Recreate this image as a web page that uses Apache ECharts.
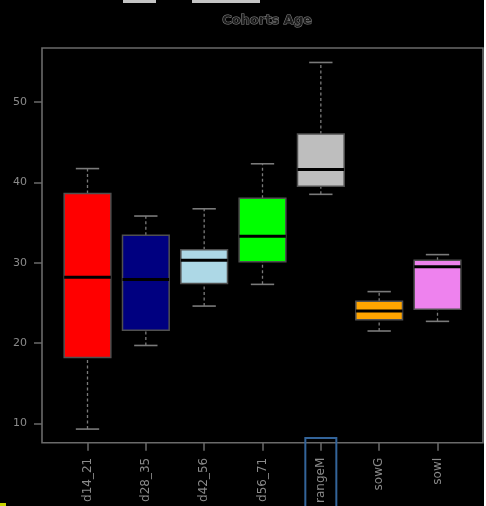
<!DOCTYPE html>
<html>
<head>
<meta charset="utf-8">
<style>
  html, body { margin: 0; padding: 0; background: #000; }
  #chart { width: 486px; height: 506px; }
</style>
<script src="https://cdn.jsdelivr.net/npm/echarts@6/dist/echarts.min.js"></script>
</head>
<body>
<div id="chart"></div>
<script>
// Cohort labels and five-number summaries (age)
const categories = ['d14_21', 'd28_35', 'd42_56', 'd56_71', 'rangeM', 'sowG', 'sowI'];
const whiskerLow = [9.3, 19.7, 24.6, 27.3, 38.5, 21.5, 22.7];
const quartile1  = [18.2, 21.6, 27.4, 30.1, 39.5, 22.9, 24.2];
const medians    = [28.2, 27.9, 30.3, 33.3, 41.6, 24.0, 29.5];
const quartile3  = [38.6, 33.4, 31.6, 38.0, 46.0, 25.2, 30.3];
const whiskerHigh= [41.7, 35.8, 36.7, 42.3, 54.9, 26.4, 31.0];
const boxColors  = ['#ff0000', '#000080', '#add8e6', '#00ff00', '#bebebe', '#ffa500', '#ee82ee'];
const yTicks = [10, 20, 30, 40, 50];
const highlighted = 'rangeM';

const positions = categories.map((_, i) => i + 1);
const boxData = categories.map((_, i) => [
  positions[i], whiskerLow[i], quartile1[i], medians[i], quartile3[i], whiskerHigh[i], i
]);

const chart = echarts.init(document.getElementById('chart'), null, { renderer: 'canvas' });

const halfBox = 0.4;    // box half-width in axis units
const halfStaple = 0.2; // whisker cap half-width

function renderBox(params, api) {
  const x = api.value(0);
  const lo = api.value(1), q1 = api.value(2), md = api.value(3), q3 = api.value(4), hi = api.value(5);
  const idx = api.value(6);
  const pLoL = api.coord([x - halfStaple, lo]);
  const pLoR = api.coord([x + halfStaple, lo]);
  const pHiL = api.coord([x - halfStaple, hi]);
  const pHiR = api.coord([x + halfStaple, hi]);
  const pLo = api.coord([x, lo]);
  const pQ1 = api.coord([x, q1]);
  const pQ3 = api.coord([x, q3]);
  const pHi = api.coord([x, hi]);
  const boxTL = api.coord([x - halfBox, q3]);
  const boxBR = api.coord([x + halfBox, q1]);
  const mdL = api.coord([x - halfBox, md]);
  const mdR = api.coord([x + halfBox, md]);
  const whiskerStyle = { stroke: '#7a7a7a', lineWidth: 1.3, lineDash: [3, 2.5] };
  const capStyle = { stroke: '#7a7a7a', lineWidth: 1.6 };
  return {
    type: 'group',
    children: [
      { type: 'line', shape: { x1: pLo[0], y1: pLo[1], x2: pQ1[0], y2: pQ1[1] }, style: whiskerStyle },
      { type: 'line', shape: { x1: pQ3[0], y1: pQ3[1], x2: pHi[0], y2: pHi[1] }, style: whiskerStyle },
      { type: 'line', shape: { x1: pLoL[0], y1: pLoL[1], x2: pLoR[0], y2: pLoR[1] }, style: capStyle },
      { type: 'line', shape: { x1: pHiL[0], y1: pHiL[1], x2: pHiR[0], y2: pHiR[1] }, style: capStyle },
      { type: 'rect', shape: { x: boxTL[0], y: boxTL[1], width: boxBR[0] - boxTL[0], height: boxBR[1] - boxTL[1] },
        style: { fill: boxColors[idx], stroke: '#505050', lineWidth: 1.5 } },
      { type: 'line', shape: { x1: mdL[0], y1: mdL[1], x2: mdR[0], y2: mdR[1] },
        style: { stroke: '#000', lineWidth: 3 } }
    ]
  };
}

const textColor = '#8a8a8a';

chart.setOption({
  backgroundColor: '#000',
  animation: false,
  title: {
    text: 'Cohorts Age',
    left: 262, top: 9, textAlign: 'center',
    textStyle: { color: '#1c1c1c', fontFamily: 'DejaVu Sans', fontWeight: 'bold', fontSize: 13,
                 textBorderColor: '#8a8a8a', textBorderWidth: 1 }
  },
  grid: {
    left: 42, right: 3, top: 48, bottom: 63,
    show: true, borderColor: '#6a6a6a', borderWidth: 1.6, backgroundColor: 'transparent'
  },
  xAxis: {
    type: 'value', min: 0.22, max: 7.78,
    splitLine: { show: false },
    axisLine: { show: false },
    axisTick: { show: true, length: 8, customValues: positions, lineStyle: { color: '#6a6a6a', width: 1.5 } },
    axisLabel: {
      customValues: positions, rotate: 90, margin: 15,
      color: textColor, fontFamily: 'DejaVu Sans', fontSize: 12,
      formatter: v => categories[Math.round(v) - 1] || ''
    }
  },
  yAxis: {
    type: 'value', min: 7.6, max: 56.7,
    splitLine: { show: false },
    axisLine: { show: false },
    axisTick: { show: true, length: 8, customValues: yTicks, lineStyle: { color: '#6a6a6a', width: 1.5 } },
    axisLabel: { customValues: yTicks, margin: 15, color: textColor, fontFamily: 'DejaVu Sans', fontSize: 11 }
  },
  series: [{
    type: 'custom',
    renderItem: renderBox,
    encode: { x: 0, y: [1, 2, 3, 4, 5] },
    data: boxData
  }]
});

// Outline around the highlighted cohort label
const hi = categories.indexOf(highlighted) + 1;
const cx = chart.convertToPixel({ xAxisIndex: 0 }, hi);
chart.setOption({
  graphic: [
    { type: 'rect', shape: { x: cx - 15.5, y: 438, width: 31, height: 72 },
      style: { fill: 'none', stroke: '#33649a', lineWidth: 2 }, z: 100 },
    { type: 'rect', shape: { x: 0, y: 503, width: 6, height: 3 }, style: { fill: '#c8d400' }, z: 100 },
    { type: 'rect', shape: { x: 123, y: 0, width: 33, height: 3 }, style: { fill: '#c4c4c4' }, z: 100 },
    { type: 'rect', shape: { x: 192, y: 0, width: 68, height: 3 }, style: { fill: '#c4c4c4' }, z: 100 },
    { type: 'rect', shape: { x: 484, y: 0, width: 2, height: 506 }, style: { fill: '#ffffff' }, z: 100 }
  ]
});
</script>
</body>
</html>
